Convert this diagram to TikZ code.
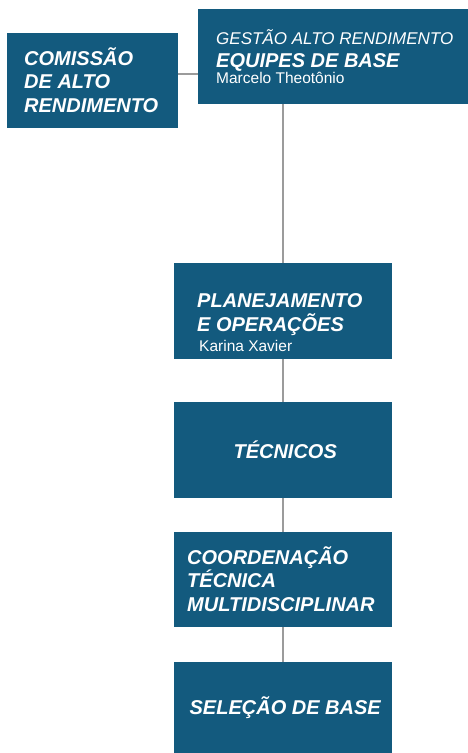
\documentclass[tikz,border=0pt]{standalone}
\usepackage{fontspec}
\setmainfont{Liberation Sans}
\usetikzlibrary{positioning, calc}

\definecolor{boxblue}{HTML}{135A7E}
\definecolor{linkgray}{HTML}{9B9B9B}

\begin{document}
\begin{tikzpicture}[
    x=1pt, y=-1pt,
    box/.style={fill=boxblue, inner sep=0pt, anchor=north west, minimum width=218pt, minimum height=95pt, text=white, font=\fontsize{20}{23.5}\selectfont\bfseries\itshape},
    heading/.style={text=white, inner sep=0pt, anchor=base west, align=left, font=\fontsize{20}{23.5}\selectfont\bfseries\itshape},
    overline/.style={text=white, inner sep=0pt, anchor=base west, font=\fontsize{17}{20}\selectfont\itshape},
    person/.style={text=white, inner sep=0pt, anchor=base west, font=\fontsize{15.5}{18}\selectfont},
    link/.style={draw=linkgray, line width=2.3pt}
]
\useasboundingbox (0,0) rectangle (468,753);

% Boxes
\node[box, minimum width=171pt] (comissao) at (7,33) {};
\node[box, minimum width=270pt] (gestao) at (198,9) {};
\node[box, minimum height=96pt] (planejamento) at (174,263) {};
\node[box, minimum height=96pt] (tecnicos) at (174,402) {\hspace*{4pt}TÉCNICOS};
\node[box] (coordenacao) at (174,532) {};
\node[box, minimum height=91pt] (selecao) at (174,662) {\hspace*{4pt}SELEÇÃO DE BASE};

% Texts (base = last line)
\node[heading] (comissao-txt) at ([xshift=17pt, yshift=-79pt]comissao.north west) {COMISSÃO\\DE ALTO\\RENDIMENTO};

\node[overline] (gestao-sup) at ([xshift=18pt, yshift=-35pt]gestao.north west) {GESTÃO ALTO RENDIMENTO};
\node[heading] (gestao-txt) at ([yshift=-23pt]gestao-sup.base west) {EQUIPES DE BASE};
\node[person] (gestao-name) at ([yshift=-16pt]gestao-txt.base west) {Marcelo Theotônio};

\node[heading] (planejamento-txt) at ([xshift=23pt, yshift=-68pt]planejamento.north west) {PLANEJAMENTO\\E OPERAÇÕES};
\node[person] (planejamento-name) at ([xshift=2pt, yshift=-20pt]planejamento-txt.base west) {Karina Xavier};

\node[heading] (coordenacao-txt) at ([xshift=13pt, yshift=-79pt]coordenacao.north west) {COORDENAÇÃO\\TÉCNICA\\MULTIDISCIPLINAR};

% Connectors
\draw[link] ([yshift=6.5pt]comissao.east) -- ([yshift=6.5pt]comissao.east -| gestao.west);
\draw[link] (planejamento.north |- gestao.south) -- (planejamento.north);
\draw[link] (planejamento.south) -- (tecnicos.north);
\draw[link] (tecnicos.south) -- (coordenacao.north);
\draw[link] (coordenacao.south) -- (selecao.north);

\end{tikzpicture}
\end{document}
